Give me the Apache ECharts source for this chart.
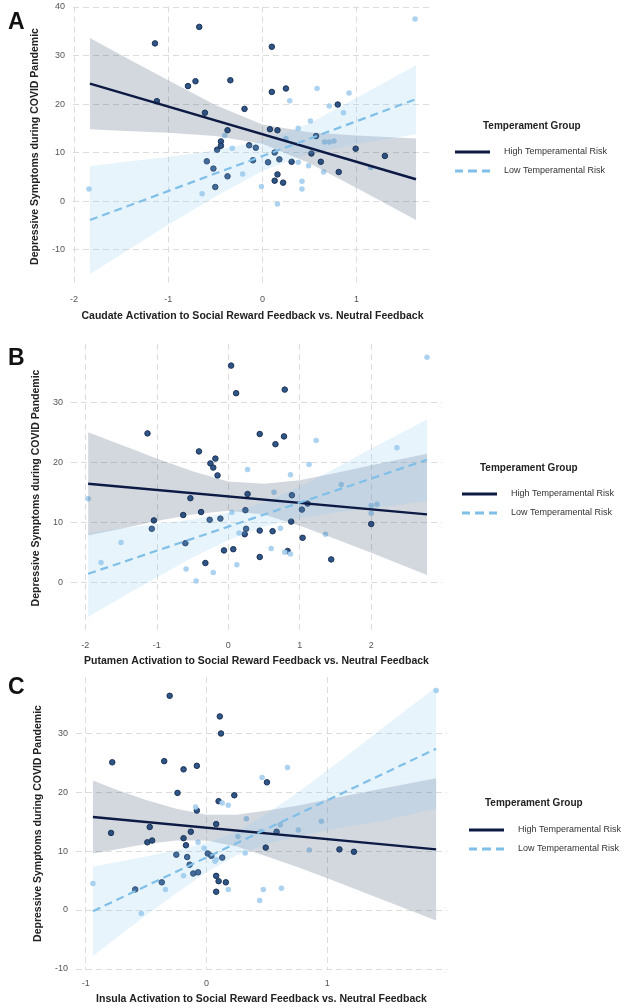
<!DOCTYPE html>
<html>
<head>
<meta charset="utf-8">
<script src="https://cdn.jsdelivr.net/npm/echarts@6/dist/echarts.min.js"></script>
<style>
  html, body { margin: 0; padding: 0; background: #fff; }
  #chart { width: 633px; height: 1008px; }
</style>
</head>
<body>
<div id="chart"></div>
<script>
  // 图例文字
  var legendNames = ['High Temperamental Risk', 'Low Temperamental Risk'];
  var yTitle = 'Depressive Symptoms during COVID Pandemic';

  // A: Caudate
  var caudateHigh = [[-1.14,32.5],[-0.67,35.9],[-1.12,20.6],[-0.79,23.7],[-0.71,24.7],[-0.34,24.9],[-0.61,18.2],[-0.19,19.0],[-0.37,14.6],[-0.44,12.3],[-0.44,11.4],[-0.48,10.6],[-0.59,8.2],[-0.52,6.7],[-0.50,2.9],[-0.37,5.1],[-0.14,11.5],[-0.07,11.0],[-0.10,8.4],[0.10,31.8],[0.10,22.5],[0.25,23.2],[0.08,14.8],[0.16,14.6],[0.13,10.0],[0.06,8.0],[0.18,8.6],[0.31,8.1],[0.16,5.5],[0.13,4.2],[0.22,3.8],[0.57,13.4],[0.52,9.8],[0.62,8.1],[0.80,19.9],[0.81,6.0],[0.99,10.8],[1.30,9.3]];
  var caudateLow = [[-1.84,2.5],[-0.64,1.5],[-0.32,10.9],[-0.40,13.5],[-0.21,5.6],[-0.01,3.0],[0.29,20.7],[0.58,23.2],[0.92,22.3],[0.71,19.6],[0.86,18.2],[0.51,16.5],[0.38,15.0],[0.66,12.2],[0.71,12.2],[0.76,12.4],[0.38,8.0],[0.49,7.3],[0.42,4.1],[0.42,2.5],[0.65,6.0],[0.16,-0.6],[1.15,6.9],[1.62,37.5],[0.25,12.9]];
  var caudateHighFit = [[-1.83,24.2],[1.63,4.5]];
  var caudateLowFit = [[-1.83,-3.9],[1.63,21.0]];
  var caudateBandX = [-1.83,-1.5,-1,-0.5,0,0.5,1,1.63];
  var caudateHighLo = [14.8,14.5,14.1,13.4,11.8,7.8,2.7,-3.9];
  var caudateHighUp = [33.6,30.1,24.9,19.8,15.8,14.2,13.5,12.9];
  var caudateLowLo = [-15.0,-11.0,-4.9,0.9,6.2,9.8,11.7,13.8];
  var caudateLowUp = [7.2,8.0,9.1,10.5,12.4,16.0,21.3,28.0];

  // B: Putamen
  var putamenHigh = [[0.04,36.1],[0.11,31.5],[0.79,32.1],[-1.13,24.8],[0.44,24.7],[0.78,24.3],[0.66,23.0],[-0.41,21.8],[-0.18,20.6],[-0.25,19.8],[-0.21,19.1],[-0.15,17.8],[-0.53,14.0],[0.27,14.7],[0.89,14.5],[-0.63,11.2],[-0.38,11.7],[0.24,12.0],[1.03,12.1],[1.11,13.1],[-0.26,10.4],[-0.11,10.6],[-1.04,10.3],[-1.07,8.9],[0.88,10.1],[0.25,8.9],[0.23,8.0],[0.44,8.6],[0.62,8.5],[1.04,7.4],[-0.60,6.5],[-0.06,5.3],[0.07,5.5],[0.83,5.2],[-0.32,3.2],[0.44,4.2],[1.44,3.8],[2.00,9.7]];
  var putamenLow = [[-1.96,13.9],[-1.78,3.3],[-1.50,6.6],[-0.59,2.2],[-0.45,0.2],[-0.21,1.6],[0.12,2.9],[0.05,11.6],[0.15,8.2],[0.27,18.8],[0.64,15.0],[0.60,5.6],[0.73,9.0],[0.79,5.0],[0.87,4.7],[0.87,17.9],[1.13,19.6],[1.23,23.6],[1.36,8.0],[1.58,16.3],[2.00,12.8],[2.00,11.5],[2.08,13.0],[2.36,22.4],[2.78,37.5]];
  var putamenHighFit = [[-1.96,16.4],[2.78,11.3]];
  var putamenLowFit = [[-1.96,1.4],[2.78,20.4]];
  var putamenBandX = [-1.96,-1.5,-1,-0.5,0,0.5,1,1.5,2,2.78];
  var putamenHighLo = [7.8,8.9,10.2,11.3,11.9,11.3,9.4,7.2,4.9,1.2];
  var putamenHighUp = [25.0,22.9,20.6,18.5,16.8,16.4,17.0,18.2,19.5,21.4];
  var putamenLowLo = [-5.8,-2.6,0.8,4.1,7.0,9.3,10.7,11.6,12.3,13.5];
  var putamenLowUp = [8.2,9.0,9.7,10.5,11.6,13.3,15.9,19.0,22.3,27.1];

  // C: Insula
  var insulaHigh = [[-0.305,36.4],[0.11,32.9],[0.12,30.0],[-0.78,25.1],[-0.35,25.3],[-0.19,23.9],[-0.08,24.5],[-0.24,19.9],[0.23,19.5],[0.50,21.7],[0.10,18.5],[-0.08,16.9],[0.08,14.6],[-0.47,14.1],[-0.79,13.1],[-0.13,13.3],[-0.49,11.5],[-0.45,11.8],[-0.19,12.2],[-0.17,11.0],[-0.25,9.4],[-0.16,9.0],[0.01,9.6],[0.04,9.2],[0.13,8.9],[-0.14,7.7],[-0.11,6.2],[-0.07,6.4],[0.08,5.8],[0.10,4.9],[0.16,4.7],[0.08,3.1],[-0.37,4.7],[-0.59,3.5],[0.49,10.6],[0.58,13.3],[1.10,10.3],[1.22,9.9]];
  var insulaLow = [[-0.94,4.5],[-0.54,-0.6],[-0.34,3.5],[-0.19,5.8],[-0.09,17.5],[0.13,18.2],[0.18,17.8],[-0.07,11.5],[-0.02,10.5],[0.07,8.3],[0.08,8.6],[0.18,3.5],[0.26,12.5],[0.67,24.2],[0.46,22.5],[0.33,15.5],[0.32,9.7],[0.45,13.3],[0.76,13.6],[0.95,15.1],[0.85,10.2],[0.47,3.5],[0.62,3.7],[0.44,1.6],[1.90,37.3],[0.61,14.5]];
  var insulaHighFit = [[-0.94,15.8],[1.90,10.3]];
  var insulaLowFit = [[-0.94,-0.2],[1.90,27.4]];
  var insulaBandX = [-0.94,-0.75,-0.5,-0.25,0,0.25,0.5,0.75,1,1.25,1.5,1.9];
  var insulaHighLo = [9.6,10.3,11.2,11.8,11.8,10.8,9.1,7.3,5.4,3.4,1.4,-1.8];
  var insulaHighUp = [22.0,20.5,18.7,17.2,16.2,16.2,16.9,17.7,18.8,19.8,20.8,22.4];
  var insulaLowLo = [-7.8,-4.8,-0.9,2.85,6.4,9.3,11.2,12.5,13.5,14.4,15.4,17.2];
  var insulaLowUp = [7.4,8.1,9.1,10.2,11.4,13.3,16.4,19.9,23.7,27.6,31.6,37.9];

  // 刻度
  var caudateXTicks = [-2,-1,0,1];
  var caudateYTicks = [-10,0,10,20,30,40];
  var putamenXTicks = [-2,-1,0,1,2];
  var putamenYTicks = [0,10,20,30];
  var insulaXTicks = [-1,0,1];
  var insulaYTicks = [-10,0,10,20,30];

  var darkColor = '#0c1a44';
  var lightColor = '#7fbfe8';
  // 图例图标：实线 / 虚线
  var solidIcon = 'path://M0,0h35v3h-35z';
  var dashIcon = 'path://M0,0h8v3h-8z M13,0h9v3h-9z M27,0h8v3h-8z';

  var panels = [
    { letter: 'A', xName: 'Caudate Activation to Social Reward Feedback vs. Neutral Feedback',
      high: caudateHigh, low: caudateLow, highFit: caudateHighFit, lowFit: caudateLowFit,
      bandX: caudateBandX, hLo: caudateHighLo, hUp: caudateHighUp, lLo: caudateLowLo, lUp: caudateLowUp,
      xTicks: caudateXTicks, yTicks: caudateYTicks,
      xMin: -2.01, xMax: 1.80, yMin: -17.6, yMax: 40.1,
      grid: { left: 73, top: 6.5, width: 359, height: 280 }, yGap: 28,
      legendLeft: 450, legendTop: 142.5, titleLeft: 478, titleTop: 116, letterTop: 6 },
    { letter: 'B', xName: 'Putamen Activation to Social Reward Feedback vs. Neutral Feedback',
      high: putamenHigh, low: putamenLow, highFit: putamenHighFit, lowFit: putamenLowFit,
      bandX: putamenBandX, hLo: putamenHighLo, hUp: putamenHighUp, lLo: putamenLowLo, lUp: putamenLowUp,
      xTicks: putamenXTicks, yTicks: putamenYTicks,
      xMin: -2.2, xMax: 2.99, yMin: -8.3, yMax: 39.7,
      grid: { left: 71, top: 344, width: 371, height: 288 }, yGap: 26,
      legendLeft: 457, legendTop: 484.5, titleLeft: 475, titleTop: 458, letterTop: 342 },
    { letter: 'C', xName: 'Insula Activation to Social Reward Feedback vs. Neutral Feedback',
      high: insulaHigh, low: insulaLow, highFit: insulaHighFit, lowFit: insulaLowFit,
      bandX: insulaBandX, hLo: insulaHighLo, hUp: insulaHighUp, lLo: insulaLowLo, lUp: insulaLowUp,
      xTicks: insulaXTicks, yTicks: insulaYTicks,
      xMin: -1.08, xMax: 1.99, yMin: -10.2, yMax: 39.6,
      grid: { left: 76, top: 677, width: 371, height: 293 }, yGap: 31,
      legendLeft: 464, legendTop: 820.5, titleLeft: 480, titleTop: 793, letterTop: 671 }
  ];

  var splitStyle = { color: '#dcdcdc', type: [6, 4], width: 1 };

  function bandSeries(idx, xs, lo, up, fill) {
    return {
      type: 'custom', xAxisIndex: idx, yAxisIndex: idx, silent: true, z: 3,
      data: [0],
      renderItem: function (params, api) {
        var pts = [];
        xs.forEach(function (x, i) { pts.push(api.coord([x, up[i]])); });
        for (var i = xs.length - 1; i >= 0; i--) pts.push(api.coord([xs[i], lo[i]]));
        return { type: 'polygon', shape: { points: pts }, style: { fill: fill } };
      }
    };
  }

  var grids = [], xAxes = [], yAxes = [], series = [], titles = [], legends = [];
  panels.forEach(function (p, i) {
    grids.push(p.grid);
    xAxes.push({
      type: 'value', gridIndex: i, min: p.xMin, max: p.xMax,
      name: p.xName, nameLocation: 'middle', nameGap: 24,
      nameTextStyle: { fontSize: 10.5, fontWeight: 'bold', color: '#222' },
      axisLine: { show: false },
      axisTick: { show: false, customValues: p.xTicks },
      axisLabel: { customValues: p.xTicks, fontSize: 9, color: '#555', margin: 9 },
      splitLine: { show: true, lineStyle: splitStyle }
    });
    yAxes.push({
      type: 'value', gridIndex: i, min: p.yMin, max: p.yMax,
      name: yTitle, nameLocation: 'middle', nameGap: p.yGap,
      nameTextStyle: { fontSize: 10.5, fontWeight: 'bold', color: '#222' },
      axisLine: { show: false },
      axisTick: { show: false, customValues: p.yTicks },
      axisLabel: { customValues: p.yTicks, fontSize: 9, color: '#555', margin: 8 },
      splitLine: { show: true, lineStyle: splitStyle }
    });
    series.push({
      type: 'scatter', name: 'high points ' + p.letter, xAxisIndex: i, yAxisIndex: i, z: 2,
      symbolSize: 5.5, data: p.high,
      itemStyle: { color: '#2f5687', borderColor: '#1b3256', borderWidth: 1, opacity: 1 }
    });
    series.push({
      type: 'scatter', name: 'low points ' + p.letter, xAxisIndex: i, yAxisIndex: i, z: 2,
      symbolSize: 5.5, data: p.low,
      itemStyle: { color: '#a8d0ef', opacity: 0.95 }
    });
    series.push(bandSeries(i, p.bandX, p.hLo, p.hUp, 'rgba(35,60,95,0.2)'));
    series.push(bandSeries(i, p.bandX, p.lLo, p.lUp, 'rgba(140,198,242,0.2)'));
    series.push({
      type: 'line', name: legendNames[0], xAxisIndex: i, yAxisIndex: i, z: 5,
      symbol: 'none', data: p.highFit, silent: true,
      lineStyle: { color: darkColor, width: 2.4, type: 'solid' }, itemStyle: { color: darkColor }
    });
    series.push({
      type: 'line', name: legendNames[1], xAxisIndex: i, yAxisIndex: i, z: 5,
      symbol: 'none', data: p.lowFit, silent: true,
      lineStyle: { color: lightColor, width: 2.2, type: [8, 5] }, itemStyle: { color: lightColor }
    });
    titles.push({
      text: p.letter, left: 3, top: p.letterTop,
      textStyle: { fontSize: 23, fontWeight: 'bold', color: '#111', fontFamily: 'Liberation Sans' }
    });
    titles.push({
      text: 'Temperament Group', left: p.titleLeft, top: p.titleTop,
      textStyle: { fontSize: 10, fontWeight: 'bold', color: '#222', fontFamily: 'Liberation Sans' }
    });
    legends.push({
      data: [
        { name: legendNames[0], icon: solidIcon, itemStyle: { color: darkColor } },
        { name: legendNames[1], icon: dashIcon, itemStyle: { color: lightColor } }
      ],
      orient: 'vertical', left: p.legendLeft, top: p.legendTop,
      itemWidth: 35, itemHeight: 3, itemGap: 10, selectedMode: false,
      textStyle: { fontSize: 9, color: '#333', padding: [0, 0, 0, 9] }
    });
  });

  var myChart = echarts.init(document.getElementById('chart'));
  myChart.setOption({
    backgroundColor: '#fff',
    animation: false,
    textStyle: { fontFamily: 'Liberation Sans' },
    title: titles,
    legend: legends,
    grid: grids,
    xAxis: xAxes,
    yAxis: yAxes,
    series: series
  });
</script>
</body>
</html>
